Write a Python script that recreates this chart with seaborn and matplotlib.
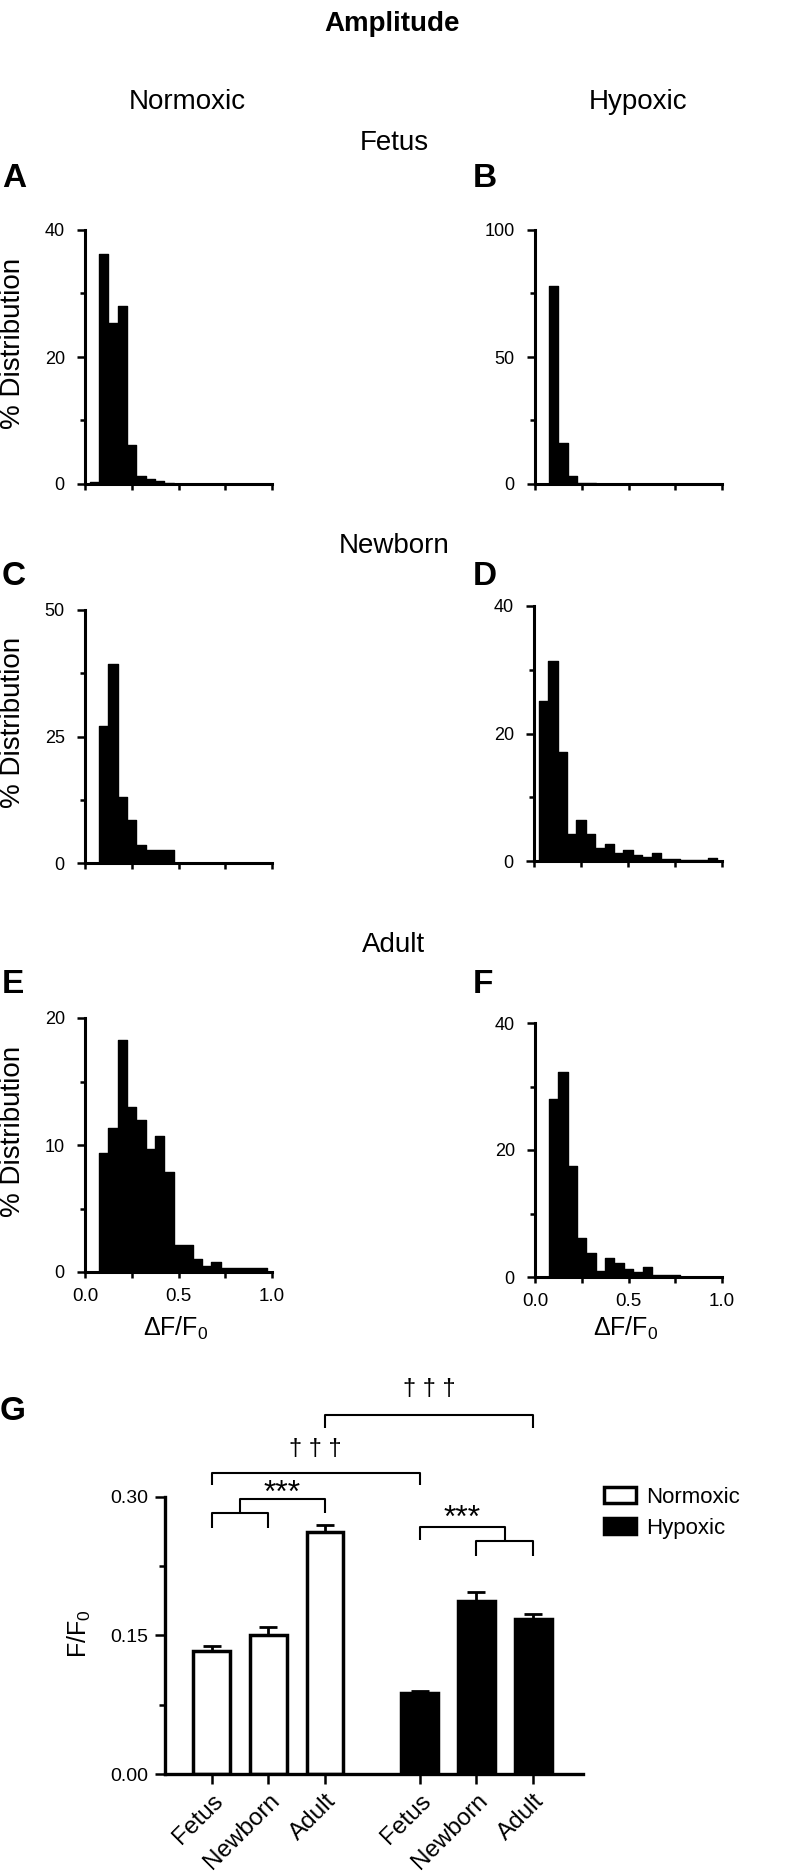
import numpy as np
import matplotlib
matplotlib.use("Agg")
import matplotlib.pyplot as plt
import seaborn as sns

# ---------------- data ----------------
bin_centers = [0.05, 0.10, 0.15, 0.20, 0.25, 0.30, 0.35, 0.40, 0.45, 0.50,
               0.55, 0.60, 0.65, 0.70, 0.75, 0.80, 0.85, 0.90, 0.95]
bin_width = 0.05

# % distribution per bin (Normoxic / Hypoxic) for Fetus, Newborn, Adult
hist_fetus_norm = [0.3, 36.2, 25.4, 28.1, 6.2, 1.3, 0.8, 0.4, 0.2]
hist_fetus_hyp = [0.0, 78.0, 16.2, 3.0, 0.3, 0.2]
hist_newborn_norm = [0.0, 27.0, 39.3, 13.0, 8.5, 3.5, 2.5, 2.5, 2.5]
hist_newborn_hyp = [25.1, 31.3, 17.1, 4.2, 6.5, 4.2, 2.0, 2.6, 1.3, 1.8,
                    1.0, 0.6, 1.2, 0.3, 0.3, 0.2, 0.2, 0.2, 0.5]
hist_adult_norm = [0.0, 9.4, 11.3, 18.3, 13.0, 12.0, 9.7, 10.7, 7.9, 2.1,
                   2.1, 1.0, 0.5, 0.8, 0.3, 0.3, 0.3, 0.3, 0.3]
hist_adult_hyp = [0.0, 28.0, 32.3, 17.5, 6.2, 3.8, 1.0, 3.0, 2.2, 1.2,
                  0.8, 1.5, 0.3, 0.3, 0.3]

hist_ymax = {"A": 40, "B": 100, "C": 50, "D": 40, "E": 20, "F": 40}

groups = ["Fetus", "Newborn", "Adult"]
normoxic_mean = [0.133, 0.151, 0.262]
normoxic_sem = [0.0055, 0.0080, 0.0072]
hypoxic_mean = [0.088, 0.187, 0.168]
hypoxic_sem = [0.0017, 0.0102, 0.0054]

g_yticks = [0.00, 0.15, 0.30]
g_yticklabels = ["0.00", "0.15", "0.30"]

# ---------------- style ----------------
sns.set_style("ticks")
plt.rcParams["font.family"] = ["Liberation Sans", "DejaVu Sans"]
plt.rcParams["mathtext.fontset"] = "custom"
plt.rcParams["mathtext.rm"] = "Liberation Sans"
plt.rcParams["mathtext.it"] = "Liberation Sans:italic"
plt.rcParams["mathtext.bf"] = "Liberation Sans:bold"
for k in ["text.color", "axes.labelcolor", "xtick.color", "ytick.color", "axes.edgecolor"]:
    plt.rcParams[k] = "black"

W, H = 786, 1871
fig = plt.figure(figsize=(W / 100, H / 100), dpi=100)


def rect(l, r, t, b):
    return [l / W, 1 - b / H, (r - l) / W, (b - t) / H]


def fx(x):
    return x / W


def fy(y):
    return 1 - y / H


edges = [round(v, 4) for v in np.arange(bin_centers[0] - bin_width / 2,
                                         bin_centers[-1] + bin_width, bin_width)]

panels = [
    ("A", hist_fetus_norm, rect(85, 272, 230, 484), False),
    ("B", hist_fetus_hyp, rect(535, 722, 230, 484), False),
    ("C", hist_newborn_norm, rect(85, 272, 610, 863), False),
    ("D", hist_newborn_hyp, rect(534, 722, 606, 861), False),
    ("E", hist_adult_norm, rect(85, 272, 1018, 1272), True),
    ("F", hist_adult_hyp, rect(535, 722, 1023, 1277), True),
]

for key, vals, r, xlab in panels:
    ax = fig.add_axes(r)
    sns.histplot(x=bin_centers[:len(vals)], weights=vals, bins=edges, stat="count",
                 element="step", fill=True, color="black", alpha=1, linewidth=1,
                 edgecolor="black", ax=ax)
    ymax = hist_ymax[key]
    ax.set_xlim(0, 1)
    ax.set_ylim(0, ymax)
    ax.set_xticks([0, 0.25, 0.5, 0.75, 1.0])
    if xlab:
        ax.set_xticklabels(["0.0", "", "0.5", "", "1.0"])
    else:
        ax.set_xticklabels([])
    ax.set_yticks([0, ymax / 2, ymax])
    ax.set_yticklabels([f"{int(v)}" for v in [0, ymax / 2, ymax]])
    ax.set_yticks([ymax / 4, 3 * ymax / 4], minor=True)
    ax.set_xlabel("")
    ax.set_ylabel("")
    sns.despine(ax=ax)
    for s in ["left", "bottom"]:
        ax.spines[s].set_linewidth(2.2)
    ax.tick_params(axis="y", which="major", length=5.5, width=1.8, labelsize=13, pad=9)
    ax.tick_params(axis="y", which="minor", length=3.5, width=1.8)
    ax.tick_params(axis="x", which="major", length=4.5, width=1.8, labelsize=13.5, pad=7)

# ---------------- bar chart G ----------------
axg = fig.add_axes(rect(165, 582.5, 1496.5, 1774.4))
group_gap = 0.67
pos_norm = np.arange(len(groups), dtype=float)
pos_hyp = pos_norm + len(groups) + group_gap

sns.barplot(x=pos_norm, y=normoxic_mean, native_scale=True, width=0.65,
            color="white", edgecolor="black", linewidth=2.5, saturation=1,
            label="Normoxic", ax=axg, errorbar=None)
sns.barplot(x=pos_hyp, y=hypoxic_mean, native_scale=True, width=0.65,
            color="black", edgecolor="black", linewidth=2.5, saturation=1,
            label="Hypoxic", ax=axg, errorbar=None)
axg.errorbar(pos_norm, normoxic_mean, yerr=[np.zeros(3), normoxic_sem], fmt="none",
             ecolor="black", elinewidth=2, capsize=6.5, capthick=2, zorder=3)
axg.errorbar(pos_hyp, hypoxic_mean, yerr=[np.zeros(3), hypoxic_sem], fmt="none",
             ecolor="black", elinewidth=2, capsize=6.5, capthick=2, zorder=3)

axg.set_xlim(-0.82, 6.54)
axg.set_ylim(0, 0.30)
allpos = np.concatenate([pos_norm, pos_hyp])
axg.set_xticks(allpos)
axg.set_xticklabels(groups + groups, rotation=45, ha="right",
                    rotation_mode="anchor", fontsize=17.5)
axg.set_yticks(g_yticks)
axg.set_yticklabels(g_yticklabels)
axg.set_yticks([0.075, 0.225], minor=True)
axg.set_xlabel("")
axg.set_ylabel("")
sns.despine(ax=axg)
for s in ["left", "bottom"]:
    axg.spines[s].set_linewidth(2.4)
axg.tick_params(axis="y", which="major", length=7, width=1.8, labelsize=14, pad=5)
axg.tick_params(axis="y", which="minor", length=4.5, width=1.8)
axg.tick_params(axis="x", which="major", length=7, width=1.8, pad=4)

leg = axg.legend(loc="upper left", bbox_to_anchor=(fx(604), fy(1487)),
                 bbox_transform=fig.transFigure, frameon=False, borderpad=0,
                 borderaxespad=0, handlelength=1.45, handleheight=0.7,
                 handletextpad=0.45, labelspacing=0.45, fontsize=16)

# significance brackets
blw = 1.5
def line(xs, ys):
    axg.plot(xs, ys, color="black", lw=blw, clip_on=False, solid_capstyle="butt")

nf, nn, na = pos_norm
hf, hn, ha_ = pos_hyp
# top dagger bracket: Normoxic Adult vs Hypoxic Adult
line([na, na, ha_, ha_], [0.3744, 0.3883, 0.3883, 0.3744])
axg.text((na + ha_) / 2, 0.416, "† † †", ha="center", va="center", fontsize=17, clip_on=False)
# second dagger bracket: Normoxic Fetus vs Hypoxic Fetus
line([nf, nf, hf, hf], [0.3121, 0.3256, 0.3256, 0.3121])
axg.text((nf + hf) / 2, 0.3508, "† † †", ha="center", va="center", fontsize=17, clip_on=False)
# normoxic ***
line([nf, nf, nn, nn], [0.2659, 0.2819, 0.2819, 0.2659])
mid_n = (nf + nn) / 2
line([mid_n, mid_n, na, na], [0.2819, 0.2978, 0.2978, 0.2827])
axg.text((mid_n + na) / 2, 0.303, "***", ha="center", va="center", fontsize=23, clip_on=False)
# hypoxic ***
mid_h = (hn + ha_) / 2
line([hf, hf, mid_h, mid_h], [0.2533, 0.2675, 0.2675, 0.2515])
line([hn, hn, ha_, ha_], [0.2355, 0.2515, 0.2515, 0.2355])
axg.text((hf + mid_h) / 2, 0.276, "***", ha="center", va="center", fontsize=23, clip_on=False)

# ---------------- figure texts ----------------
fig.text(fx(392), fy(31), "Amplitude", ha="center", va="baseline", fontsize=20, fontweight="bold")
fig.text(fx(187), fy(109), "Normoxic", ha="center", va="baseline", fontsize=20)
fig.text(fx(638), fy(109), "Hypoxic", ha="center", va="baseline", fontsize=20)
fig.text(fx(394), fy(150), "Fetus", ha="center", va="baseline", fontsize=20)
fig.text(fx(394), fy(553), "Newborn", ha="center", va="baseline", fontsize=20)
fig.text(fx(394), fy(952), "Adult", ha="center", va="baseline", fontsize=20)

for letter, x, y in [("A", 2, 187), ("B", 473, 187), ("C", 2, 585), ("D", 473, 585),
                     ("E", 2, 993), ("F", 473, 993), ("G", 0, 1420)]:
    fig.text(fx(x), fy(y), letter, ha="left", va="baseline", fontsize=24, fontweight="bold")

for y in [343, 722, 1131]:
    fig.text(fx(13), fy(y), "% Distribution", rotation=90, ha="center", va="center", fontsize=20)

fig.text(fx(176), fy(1328), "ΔF/F$_0$", ha="center", va="center", fontsize=18)
fig.text(fx(626), fy(1328), "ΔF/F$_0$", ha="center", va="center", fontsize=18)
fig.text(fx(79), fy(1634), "F/F$_0$", rotation=90, ha="center", va="center", fontsize=18)

fig.savefig("out.png", dpi=100)
